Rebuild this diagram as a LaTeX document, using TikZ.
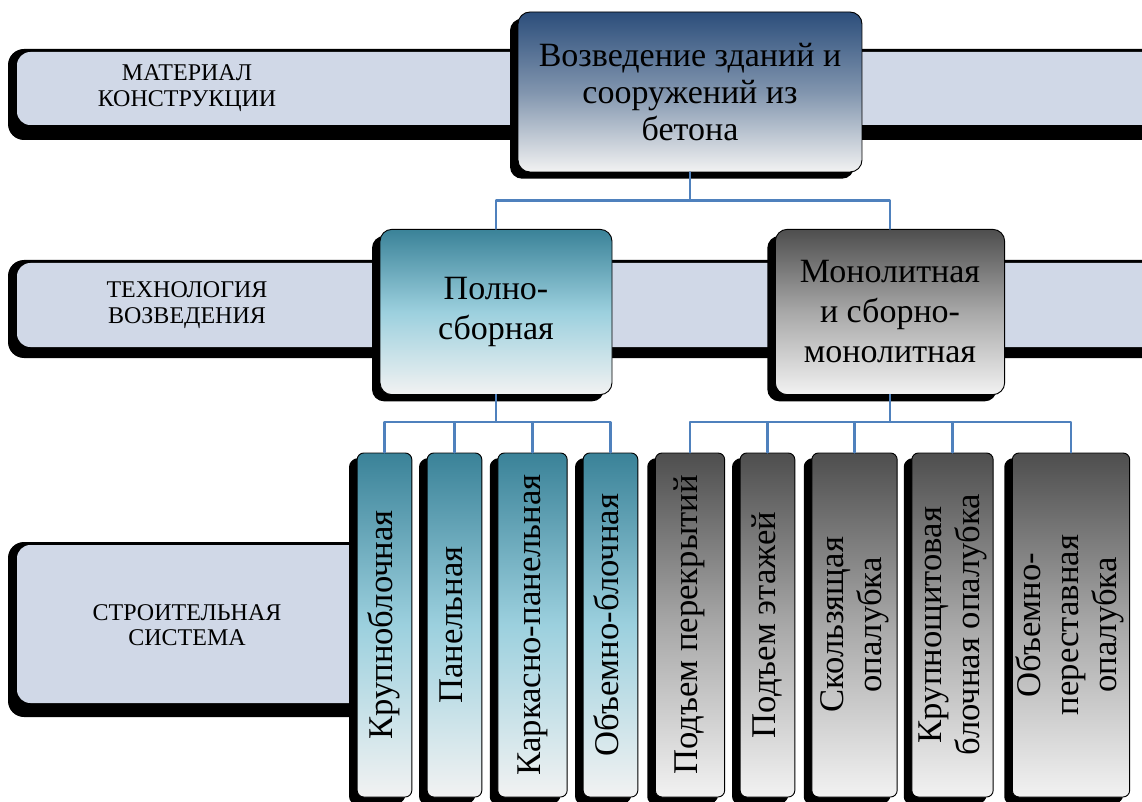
\documentclass[tikz,border=0pt]{standalone}
\usepackage{fontspec}
\setmainfont{Liberation Serif}
\usetikzlibrary{shadows}
\definecolor{bandface}{HTML}{D0D8E7}
\definecolor{linkblue}{HTML}{4F81BD}
\definecolor{navytop}{HTML}{2C4E7B}
\definecolor{navymid}{HTML}{8195AE}
\definecolor{tealtop}{HTML}{3A8298}
\definecolor{tealmid}{HTML}{9CD0DE}
\definecolor{graytop}{HTML}{4E4E4E}
\definecolor{graymid}{HTML}{A8A8A8}
\definecolor{paleend}{HTML}{F2F2F2}
\newcommand{\vlabel}[1]{\rotatebox{90}{\begin{tabular}{@{}c@{}}#1\end{tabular}}}

\begin{document}
\begin{tikzpicture}[x=0.75pt, y=-0.75pt, line join=round, line cap=round,
	bandtext/.style={align=center, font=\fontsize{18}{19}\selectfont},
	boxbase/.style={draw=black, line width=0.7pt, inner sep=0pt, align=center,
		general shadow={fill=black, shadow xshift=-6pt, shadow yshift=-5pt}},
	mainbox/.style={boxbase, rounded corners=9pt, top color=navytop, bottom color=paleend, middle color=navymid,
		minimum width=258pt, minimum height=120pt, font=\fontsize{25.5}{28}\selectfont},
	tealbox/.style={boxbase, rounded corners=9pt, top color=tealtop, bottom color=paleend, middle color=tealmid},
	graybox/.style={boxbase, rounded corners=9pt, top color=graytop, bottom color=paleend, middle color=graymid},
	midbox/.style={minimum height=124pt, font=\fontsize{25.5}{30}\selectfont},
	vbox/.style={minimum height=258pt, rounded corners=5pt, font=\fontsize{26}{28.5}\selectfont,
		general shadow={fill=black, shadow xshift=-5pt, shadow yshift=-4pt}},
	link/.style={draw=linkblue, line width=1.6pt}]
	\useasboundingbox (0,0) rectangle (1142,802);
	\clip (0,0) rectangle (1142,802);

	\fill[black, rounded corners=12pt] (8,49) rectangle (1160,140);
	\fill[bandface, rounded corners=10pt] (17,52) rectangle (1160,125);
	\fill[black, rounded corners=12pt] (8,260) rectangle (1160,358);
	\fill[bandface, rounded corners=10pt] (17,263) rectangle (1160,347);
	\fill[black, rounded corners=12pt] (8,542) rectangle (380,717);
	\fill[bandface, rounded corners=10pt] (17,545) rectangle (380,703);

	\node[bandtext] (material) at (187,88) {МАТЕРИАЛ\\КОНСТРУКЦИИ};
	\node[bandtext] (technology) at (187,305) {ТЕХНОЛОГИЯ\\ВОЗВЕДЕНИЯ};
	\node[bandtext] (system) at (187,625) {СТРОИТЕЛЬНАЯ\\СИСТЕМА};

	\node[mainbox] (concrete) at (690,92) {Возведение зданий и\\сооружений из\\бетона};
	\node[tealbox, midbox, minimum width=174pt] (precast) at (496,312) {Полно-\\сборная};
	\node[graybox, midbox, minimum width=172pt] (monolith) at (890,312) {Монолитная\\и сборно-\\монолитная};

	\node[tealbox, vbox, minimum width=41pt] (bigblock) at (384.5,625) {\vlabel{Крупноблочная}};
	\node[tealbox, vbox, minimum width=41pt] (panel) at (454.5,625) {\vlabel{Панельная}};
	\node[tealbox, vbox, minimum width=52pt] (framepanel) at (532.5,625) {\vlabel{Каркасно-панельная}};
	\node[tealbox, vbox, minimum width=41pt] (volblock) at (610.5,625) {\vlabel{Объемно-блочная}};

	\node[graybox, vbox, minimum width=52pt] (liftslab) at (690,625) {\vlabel{Подъем перекрытий}};
	\node[graybox, vbox, minimum width=41pt] (liftfloor) at (767.5,625) {\vlabel{Подъем этажей}};
	\node[graybox, vbox, minimum width=64pt] (slipform) at (854.5,625) {\vlabel{Скользящая\\опалубка}};
	\node[graybox, vbox, minimum width=61pt] (panelform) at (952.5,625) {\vlabel{Крупнощитовая\\блочная опалубка}};
	\node[graybox, vbox, minimum width=88pt] (tunnelform) at (1071,625) {\vlabel{Объемно-\\переставная\\опалубка}};

	\draw[link] (concrete.south) -- ++(0,28) -| (precast.north);
	\draw[link] (concrete.south) -- ++(0,28) -| (monolith.north);

	\draw[link] (precast.south) -- ++(0,27) -| (bigblock.north);
	\draw[link] (precast.south) -- ++(0,27) -| (panel.north);
	\draw[link] (precast.south) -- ++(0,27) -| (framepanel.north);
	\draw[link] (precast.south) -- ++(0,27) -| (volblock.north);

	\draw[link] (monolith.south) -- ++(0,27) -| (liftslab.north);
	\draw[link] (monolith.south) -- ++(0,27) -| (liftfloor.north);
	\draw[link] (monolith.south) -- ++(0,27) -| (slipform.north);
	\draw[link] (monolith.south) -- ++(0,27) -| (panelform.north);
	\draw[link] (monolith.south) -- ++(0,27) -| (tunnelform.north);
\end{tikzpicture}
\end{document}
